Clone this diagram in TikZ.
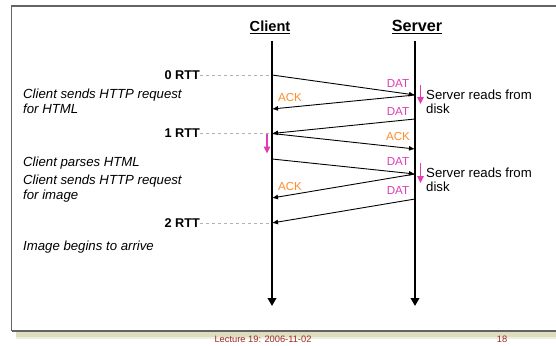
\documentclass[tikz,border=0pt]{standalone}
\usepackage{fontspec}
\setmainfont{Liberation Sans}
\usetikzlibrary{arrows.meta}
\definecolor{dat}{RGB}{226,60,180}
\definecolor{ack}{RGB}{255,140,40}
\definecolor{foot}{RGB}{160,40,40}
\definecolor{frame}{RGB}{100,100,100}
\definecolor{shadow}{RGB}{222,222,190}
\tikzset{
  msg/.style={line width=0.9pt,-{Latex[length=6pt,width=5pt]}},
  life/.style={line width=2pt,-{Triangle[length=8pt,width=8.5pt]}},
  rtt/.style={draw=gray!60,dashed,line width=0.6pt},
  rttlab/.style={font=\fontsize{12.7}{14}\selectfont\bfseries,anchor=east,inner sep=0pt},
  datlab/.style={font=\fontsize{11.6}{13}\selectfont,text=dat,inner sep=0pt},
  acklab/.style={font=\fontsize{11.6}{13}\selectfont,text=ack,inner sep=0pt},
  note/.style={font=\fontsize{13.2}{15.2}\selectfont\itshape,align=left,anchor=west,inner sep=0pt},
  snote/.style={font=\fontsize{13.2}{14.5}\selectfont,align=left,anchor=west,inner sep=0pt},
  work/.style={draw=dat,line width=1.3pt,-{Triangle[length=7pt,width=6.5pt]}},
}
\begin{document}
\begin{tikzpicture}[x=1pt,y=-1pt]
\useasboundingbox (0,0) rectangle (556,345);
% frame with shadow
\fill[shadow] (16,331) rectangle (560,337);
\fill[shadow!50] (16,337) rectangle (560,338.5);
\fill[white] (11.5,6) rectangle (560,331);
\draw[frame,line width=1.6pt] (11.5,331) -- (11.5,6) -- (560,6);
\draw[frame,line width=1.6pt] (11.5,331) -- (560,331);
% headers
\node[font=\fontsize{14.6}{16}\selectfont\bfseries,inner sep=0pt] (client) at (270,27) {\underline{Client}};
\node[font=\fontsize{16.2}{18}\selectfont\bfseries,inner sep=0pt] (server) at (417,27) {\underline{Server}};
% lifelines
\coordinate (ct) at (272,41);
\coordinate (cb) at (272,306);
\coordinate (st) at (415,41);
\coordinate (sb) at (415,306);
\draw[life] (ct) -- (cb);
\draw[life] (st) -- (sb);
% message points
\coordinate (c1) at (272,75);
\coordinate (s1) at (415,95);
\coordinate (c2) at (272,109);
\coordinate (s3) at (415,119);
\coordinate (c3) at (272,133.5);
\coordinate (s4) at (415,149);
\coordinate (c5) at (272,159);
\coordinate (s5) at (415,174);
\coordinate (c6) at (272,198);
\coordinate (s7) at (415,199);
\coordinate (c7) at (272,223);
% RTT labels
\node[rttlab] (r0) at (200,75) {0 RTT};
\node[rttlab] (r1) at (200,133.5) {1 RTT};
\node[rttlab] (r2) at (200,223) {2 RTT};
\draw[rtt] (r0.east) -- (c1);
\draw[rtt] (r1.east) -- (c3);
\draw[rtt] (r2.east) -- (c7);
% messages
\draw[msg] (c1) -- (s1);
\draw[msg] (s1) -- (c2);
\draw[msg] (s3) -- (c3);
\draw[msg] (c3) -- (s4);
\draw[msg] (c5) -- (s5);
\draw[msg] (s5) -- (c6);
\draw[msg] (s7) -- (c7);
% message labels
\node[datlab] (d1) at (398,84) {DAT};
\node[acklab] (a1) at (290,98) {ACK};
\node[datlab] (d2) at (398,112) {DAT};
\node[acklab] (a2) at (398,136.5) {ACK};
\node[datlab] (d3) at (398,162) {DAT};
\node[acklab] (a3) at (290,187) {ACK};
\node[datlab] (d4) at (398,191) {DAT};
% processing arrows
\coordinate (p1t) at (420.5,85);
\coordinate (p1b) at (420.5,104);
\coordinate (p2t) at (420.5,163);
\coordinate (p2b) at (420.5,183);
\coordinate (p3t) at (267,133.5);
\coordinate (p3b) at (267,153.5);
\draw[work] (p1t) -- (p1b);
\draw[work] (p2t) -- (p2b);
\draw[work] (p3t) -- (p3b);
% server notes
\node[snote] (sn1) at (426,102) {Server reads from\\disk};
\node[snote] (sn2) at (426,180) {Server reads from\\disk};
% client notes
\node[note] (n1) at (23,101.5) {Client sends HTTP request\\for HTML};
\node[note] (n2) at (23,163) {Client parses HTML};
\node[note] (n3) at (23,188.5) {Client sends HTTP request\\for image};
\node[note] (n4) at (23,247) {Image begins to arrive};
% footer
\node[font=\fontsize{9.3}{11}\selectfont,text=foot,inner sep=0pt] (foot) at (263,339.5) {Lecture 19: 2006-11-02};
\node[font=\fontsize{9.3}{11}\selectfont,text=foot,inner sep=0pt] (page) at (502,339.5) {18};
\end{tikzpicture}
\end{document}
